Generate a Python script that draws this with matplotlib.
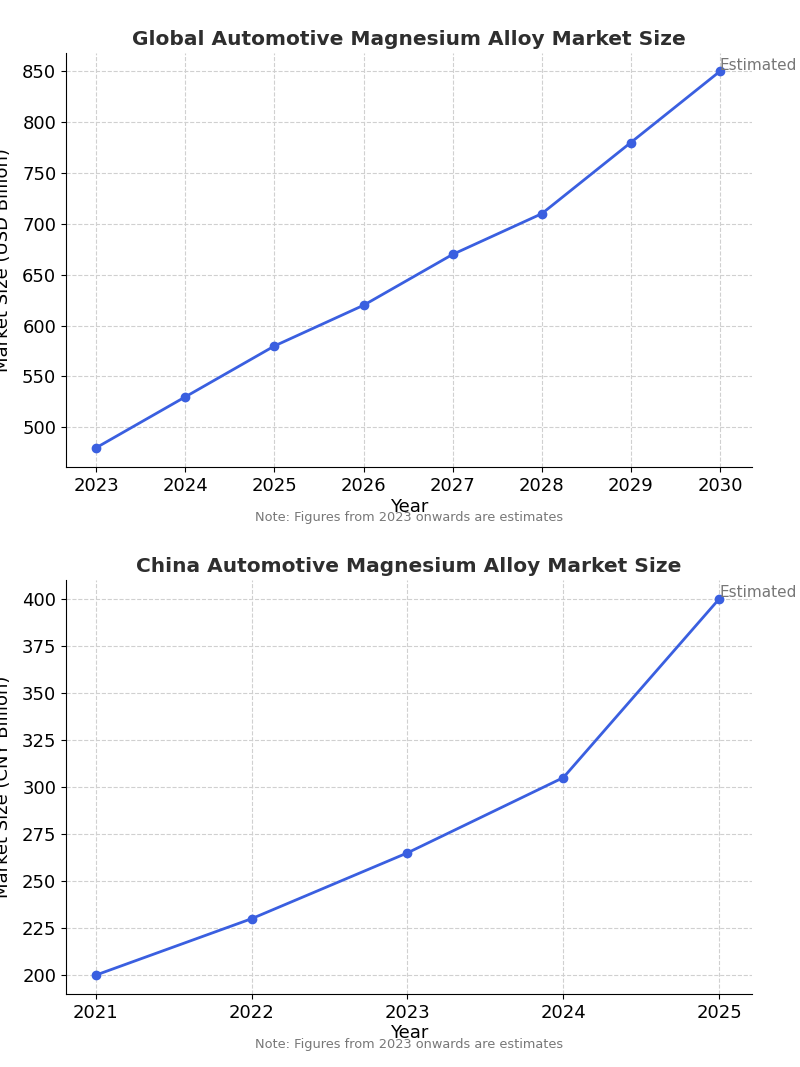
import matplotlib
matplotlib.use("Agg")
import matplotlib.pyplot as plt

g_years = [2023, 2024, 2025, 2026, 2027, 2028, 2029, 2030]
g_vals = [480, 530, 580, 620, 670, 710, 780, 850]
c_years = [2021, 2022, 2023, 2024, 2025]
c_vals = [200, 230, 265, 305, 400]

fig = plt.figure(figsize=(8, 10.67), dpi=100)
W, H = 800, 1067
def ax_at(l, t, r, b):
    return fig.add_axes([l/W, 1-b/H, (r-l)/W, (b-t)/H])

specs = [
    (ax_at(66, 53, 752, 467), g_years, g_vals, "Global Automotive Magnesium Alloy Market Size",
     "Market Size (USD Billion)", [500, 550, 600, 650, 700, 750, 800, 850], (461, 868), (2022.66, 2030.36)),
    (ax_at(66, 580, 752, 994), c_years, c_vals, "China Automotive Magnesium Alloy Market Size",
     "Market Size (CNY Billion)", [200, 225, 250, 275, 300, 325, 350, 375, 400], (190, 410), (2020.81, 2025.21)),
]
for ax, x, y, title, ylab, yt, ylim, xlim in specs:
    ax.plot(x, y, color="#3a5fe0", lw=2, marker="o", ms=6)
    ax.set_title(title, fontsize=14.5, fontweight="bold", color="#2e2e2e")
    ax.set_xlabel("Year", fontsize=13, labelpad=2)
    ax.set_ylabel(ylab, fontsize=13)
    ax.yaxis.set_label_coords(-0.078, 0.5)
    ax.set_xticks(x)
    ax.set_yticks(yt)
    ax.set_ylim(*ylim)
    ax.set_xlim(*xlim)
    ax.tick_params(labelsize=13)
    ax.grid(True, ls="--", color="#d0d0d0", lw=0.8)
    for s in ["top", "right"]:
        ax.spines[s].set_visible(False)
    ax.annotate("Estimated", (x[-1], y[-1]), xytext=(0, -1), textcoords="offset points",
                color="#777777", fontsize=11, ha="left", va="bottom", annotation_clip=False)
    ax.text(0.5, -0.107, "Note: Figures from 2023 onwards are estimates", transform=ax.transAxes,
            ha="center", va="top", fontsize=9.3, color="#777777")

fig.savefig("out.png", dpi=100)
